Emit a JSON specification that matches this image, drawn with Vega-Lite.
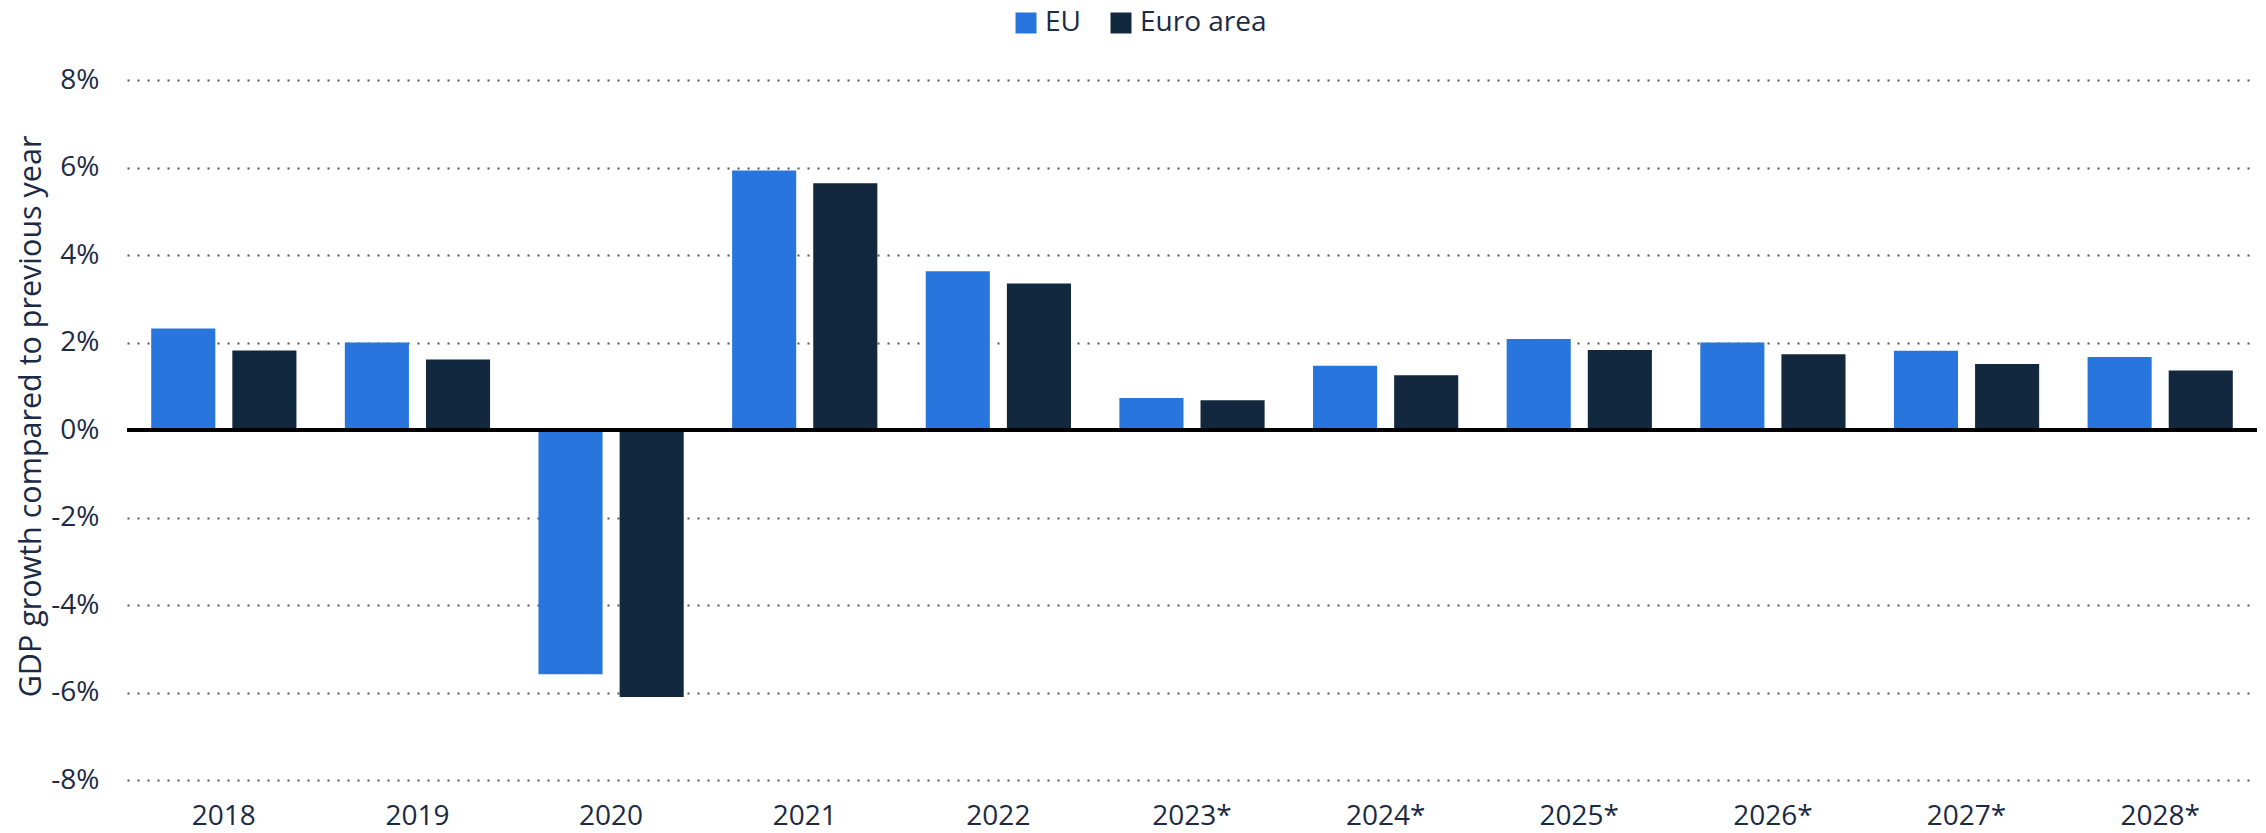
{
  "$schema": "https://vega.github.io/schema/vega-lite/v6.json",
  "width": 2130,
  "height": 700,
  "autosize": {"type": "none"},
  "padding": {"left": 127, "top": 80, "right": 9, "bottom": 53},
  "background": "white",
  "config": {"view": {"stroke": null}, "font": "Open Sans"},
  "data": {
    "values": [
      {"year": "2018", "series": "EU", "value": 2.32},
      {"year": "2018", "series": "Euro area", "value": 1.82},
      {"year": "2019", "series": "EU", "value": 2.0},
      {"year": "2019", "series": "Euro area", "value": 1.61},
      {"year": "2020", "series": "EU", "value": -5.58},
      {"year": "2020", "series": "Euro area", "value": -6.1},
      {"year": "2021", "series": "EU", "value": 5.93},
      {"year": "2021", "series": "Euro area", "value": 5.64},
      {"year": "2022", "series": "EU", "value": 3.63},
      {"year": "2022", "series": "Euro area", "value": 3.35},
      {"year": "2023*", "series": "EU", "value": 0.73},
      {"year": "2023*", "series": "Euro area", "value": 0.68},
      {"year": "2024*", "series": "EU", "value": 1.47},
      {"year": "2024*", "series": "Euro area", "value": 1.25},
      {"year": "2025*", "series": "EU", "value": 2.08},
      {"year": "2025*", "series": "Euro area", "value": 1.83},
      {"year": "2026*", "series": "EU", "value": 2.0},
      {"year": "2026*", "series": "Euro area", "value": 1.73},
      {"year": "2027*", "series": "EU", "value": 1.81},
      {"year": "2027*", "series": "Euro area", "value": 1.51},
      {"year": "2028*", "series": "EU", "value": 1.67},
      {"year": "2028*", "series": "Euro area", "value": 1.36}
    ]
  },
  "layer": [
    {
      "mark": {"type": "bar"},
      "encoding": {
        "x": {
          "field": "year",
          "type": "nominal",
          "sort": null,
          "scale": {"paddingInner": 0.25, "paddingOuter": 0.125},
          "axis": {
            "title": null,
            "labelAngle": 0,
            "domain": false,
            "ticks": false,
            "tickSize": 0,
            "grid": false,
            "labelPadding": 22,
            "labelFontSize": 28,
            "labelColor": "#1b2b45"
          }
        },
        "xOffset": {
          "field": "series",
          "type": "nominal",
          "sort": ["EU", "Euro area"],
          "scale": {"paddingInner": 0.21, "paddingOuter": 0}
        },
        "y": {
          "field": "value",
          "type": "quantitative",
          "scale": {"domain": [-8, 8], "nice": false},
          "axis": {
            "values": [-8, -6, -4, -2, 0, 2, 4, 6, 8],
            "labelExpr": "datum.value + '%'",
            "grid": true,
            "gridDash": [2, 8],
            "gridColor": "#555555",
            "gridWidth": 2,
            "domain": false,
            "ticks": false,
            "tickSize": 0,
            "labelPadding": 28,
            "labelFontSize": 28,
            "labelColor": "#1b2b45",
            "title": "GDP growth compared to previous year",
            "titleFontSize": 30.5,
            "titleFontWeight": "normal",
            "titleColor": "#1b2b45",
            "titleX": -81,
            "titleY": 336
          }
        },
        "color": {
          "field": "series",
          "type": "nominal",
          "scale": {"domain": ["EU", "Euro area"], "range": ["#2876dd", "#12283f"]},
          "legend": {
            "title": null,
            "orient": "none",
            "direction": "horizontal",
            "legendX": 885,
            "legendY": -71,
            "padding": 0,
            "symbolType": "square",
            "symbolSize": 441,
            "symbolStrokeWidth": 0,
            "labelFontSize": 28,
            "labelColor": "#1b2b45",
            "labelOffset": 5,
            "columnPadding": 26
          }
        }
      }
    },
    {
      "mark": {"type": "rule", "color": "black", "strokeWidth": 4},
      "encoding": {"y": {"datum": 0}}
    }
  ]
}
